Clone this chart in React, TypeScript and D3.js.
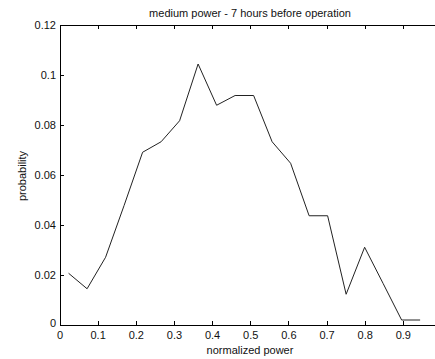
import * as d3 from "d3";
import React from "react";

// bin centres (normalized power) and probabilities
const binCenters = [0.0225, 0.071, 0.1195, 0.168, 0.2165, 0.265, 0.3135, 0.362, 0.4105, 0.459,
    0.5075, 0.556, 0.6045, 0.653, 0.7015, 0.75, 0.7985, 0.847, 0.8955, 0.944];
const probs = [0.0207, 0.0145, 0.0271, 0.0478, 0.0691, 0.0733, 0.0817, 0.1044, 0.0879, 0.0918,
    0.0918, 0.0733, 0.0647, 0.0437, 0.0437, 0.0123, 0.0311, 0.0166, 0.002, 0.002];
const xTicks = [0, 0.1, 0.2, 0.3, 0.4, 0.5, 0.6, 0.7, 0.8, 0.9];
const yTicks = [0, 0.02, 0.04, 0.06, 0.08, 0.1, 0.12];

const W = 435, H = 359;
const left = 60, top = 25, right = 441.5, bottom = 325;
const font = "'Liberation Sans', Arial, sans-serif";

const App: React.FC = () => {
    const x = d3.scaleLinear().domain([0, 1]).range([left, right]);
    const y = d3.scaleLinear().domain([0, 0.12]).range([bottom, top]);
    const line = d3.line<number>().x((_, i) => x(binCenters[i])).y(d => y(d));
    const tl = 4;
    return (
        <svg width={W} height={H} viewBox={`0 0 ${W} ${H}`}
            style={{ position: "absolute", left: 0, top: 0, background: "#fff", display: "block" }}>
            <rect x={0} y={0} width={W} height={H} fill="#fff" />
            <text x={250} y={17} textAnchor="middle" fontFamily={font} fontSize={11} fill="#111">
                medium power - 7 hours before operation</text>
            {/* axes box */}
            <path d={`M${left},${bottom}H${right}M${left},${bottom}V${top}H${right}`} stroke="#000" fill="none" strokeWidth={1} shapeRendering="crispEdges" />
            {xTicks.map((t, i) => (
                <g key={"x" + i}>
                    <line x1={x(t)} x2={x(t)} y1={bottom} y2={bottom - tl} stroke="#000" shapeRendering="crispEdges" />
                    <line x1={x(t)} x2={x(t)} y1={top} y2={top + tl} stroke="#000" shapeRendering="crispEdges" />
                    <text x={x(t)} y={339} textAnchor="middle" fontFamily={font} fontSize={11} fill="#111">{t}</text>
                </g>
            ))}
            {yTicks.map((t, i) => (
                <g key={"y" + i}>
                    <line x1={left} x2={left + tl} y1={y(t)} y2={y(t)} stroke="#000" shapeRendering="crispEdges" />
                    <text x={56} y={y(t) + (t === 0 ? 2 : 4)} textAnchor="end" fontFamily={font} fontSize={11} fill="#111">{t}</text>
                </g>
            ))}
            <text x={250} y={354} textAnchor="middle" fontFamily={font} fontSize={11} fill="#111">normalized power</text>
            <text transform={`translate(26,176) rotate(-90)`} textAnchor="middle" fontFamily={font} fontSize={11} fill="#111">probability</text>
            <path d={line(probs)!} fill="none" stroke="#222" strokeWidth={1} />
        </svg>
    );
};

export default App;
